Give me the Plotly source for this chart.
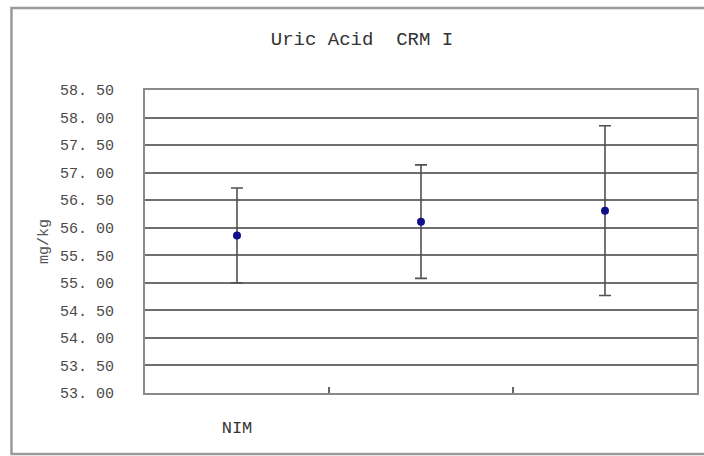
import plotly.graph_objects as go

categories = ["NIM", " ", "  "]
means = [55.86, 56.11, 56.31]
errors = [0.86, 1.03, 1.54]
y_ticks = [53.0, 53.5, 54.0, 54.5, 55.0, 55.5, 56.0, 56.5, 57.0, 57.5, 58.0, 58.5]
y_tick_labels = ["53. 00", "53. 50", "54. 00", "54. 50", "55. 00", "55. 50",
                 "56. 00", "56. 50", "57. 00", "57. 50", "58. 00", "58. 50"]

FONT = "Liberation Mono"
GRAY = "#8a8a8a"

fig = go.Figure()
fig.add_trace(go.Scatter(
    x=categories, y=means, mode="markers",
    marker=dict(color="#10108a", size=8),
    error_y=dict(type="data", array=errors, visible=True,
                 color="#505050", thickness=1.6, width=6),
    showlegend=False,
))

# outer chart frame (paper coordinates relative to plot area)
L, R, T, B = 145, 5, 90, 63
W, H = 704, 456
pw, ph = W - L - R, H - T - B
fx0 = (11 - L) / pw
fx1 = (708 - L) / pw
fy1 = (H - B - 8) / ph
fy0 = (H - B - 454) / ph
fig.add_shape(type="rect", xref="paper", yref="paper",
              x0=fx0, x1=fx1, y0=fy0, y1=fy1,
              line=dict(color="#9a9a9a", width=2.5), layer="below")

fig.update_layout(
    width=W, height=H,
    margin=dict(l=L, r=R, t=T, b=B),
    paper_bgcolor="white", plot_bgcolor="white",
    title=dict(text="Uric Acid  CRM I", x=362 / W,
               xanchor="center", y=1 - 38 / H, yanchor="middle",
               font=dict(family=FONT, size=19, color="#333333")),
    font=dict(family=FONT, color="#444444"),
)

fig.update_xaxes(
    type="category", categoryorder="array", categoryarray=categories,
    tickson="boundaries", ticks="inside", ticklen=6, tickwidth=2,
    tickcolor="#666666",
    showgrid=False, showline=True, linecolor=GRAY, linewidth=2, mirror=True,
    tickfont=dict(family=FONT, size=17, color="#333333"),
    ticklabelstandoff=18,
    range=[-0.5, 2.5],
)
fig.update_yaxes(
    range=[53.0, 58.5], tickvals=y_ticks, ticktext=y_tick_labels,
    showgrid=True, gridcolor="#6e6e6e", gridwidth=2,
    showline=True, linecolor=GRAY, linewidth=2, mirror=True,
    zeroline=False, ticks="",
    tickfont=dict(family=FONT, size=15, color="#4a4a4a"),
    ticklabelstandoff=26,
    title=dict(text="mg/kg", standoff=8,
               font=dict(family=FONT, size=15, color="#555555")),
)

fig.write_html("out.html", config={"displayModeBar": False},
               post_script="document.body.style.margin='0';document.body.style.overflow='hidden';")
